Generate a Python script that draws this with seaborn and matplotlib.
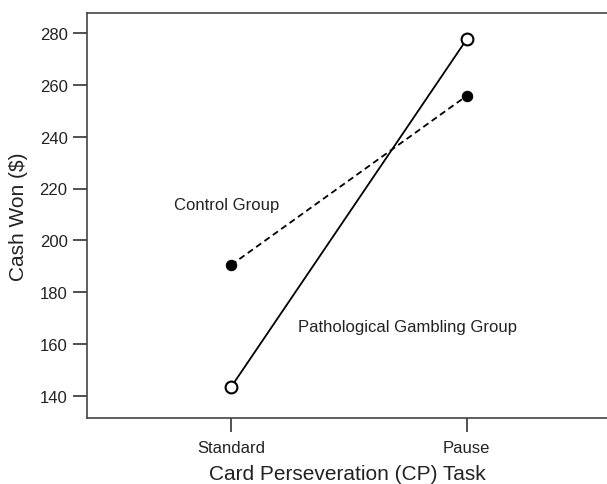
import matplotlib
matplotlib.use("Agg")
import matplotlib.pyplot as plt
import seaborn as sns
import pandas as pd

tasks = ["Standard", "Pause"]
control = [190.5, 255.7]
pathological = [143.5, 277.5]
y_ticks = [140, 160, 180, 200, 220, 240, 260, 280]

sns.set_theme(style="ticks")
plt.rcParams["font.family"] = ["Liberation Sans", "DejaVu Sans"]

df = pd.DataFrame({
    "x": [0, 1, 0, 1],
    "task": tasks * 2,
    "cash": control + pathological,
    "group": ["Control Group"] * 2 + ["Pathological Gambling Group"] * 2,
})

fig = plt.figure(figsize=(6.07, 4.85), dpi=100)
ax = fig.add_axes([87 / 607, 1 - 419 / 485, 1 - 87 / 607, (419 - 14) / 485])

ctl = df[df.group == "Control Group"]
pat = df[df.group == "Pathological Gambling Group"]
sns.lineplot(data=ctl, x="x", y="cash", ax=ax, color="black", linewidth=1.3,
             linestyle=(0, (3.5, 2.2)), marker="o", markersize=7.5,
             markerfacecolor="black", markeredgecolor="black", legend=False)
sns.lineplot(data=pat, x="x", y="cash", ax=ax, color="black", linewidth=1.3,
             marker="o", markersize=8.5, markerfacecolor="white",
             markeredgecolor="black", markeredgewidth=1.5, legend=False)

ax.set_xlim(-0.611, 1.595)
ax.set_ylim(131.6, 287.6)
ax.set_xticks([0, 1])
ax.set_xticklabels(tasks)
ax.set_yticks(y_ticks)
ax.tick_params(axis="both", labelsize=12, length=10, width=1.2, color="#333333",
               direction="out", pad=4, labelcolor="#222222")
ax.tick_params(axis="x", pad=6)
for s in ["left", "top", "bottom"]:
    ax.spines[s].set_linewidth(1.2)
    ax.spines[s].set_color("#444444")
ax.spines["right"].set_visible(False)

ax.set_xlabel("Card Perseveration (CP) Task", fontsize=15, color="#222222", labelpad=6)
ax.set_ylabel("Cash Won ($)", fontsize=15, color="#222222", labelpad=8)

ax.text(-0.02, 214, "Control Group", fontsize=12, ha="center", va="center", color="#222222")
ax.text(0.747, 167, "Pathological Gambling Group", fontsize=12, ha="center", va="center", color="#222222")

fig.savefig("out.png", dpi=100)
